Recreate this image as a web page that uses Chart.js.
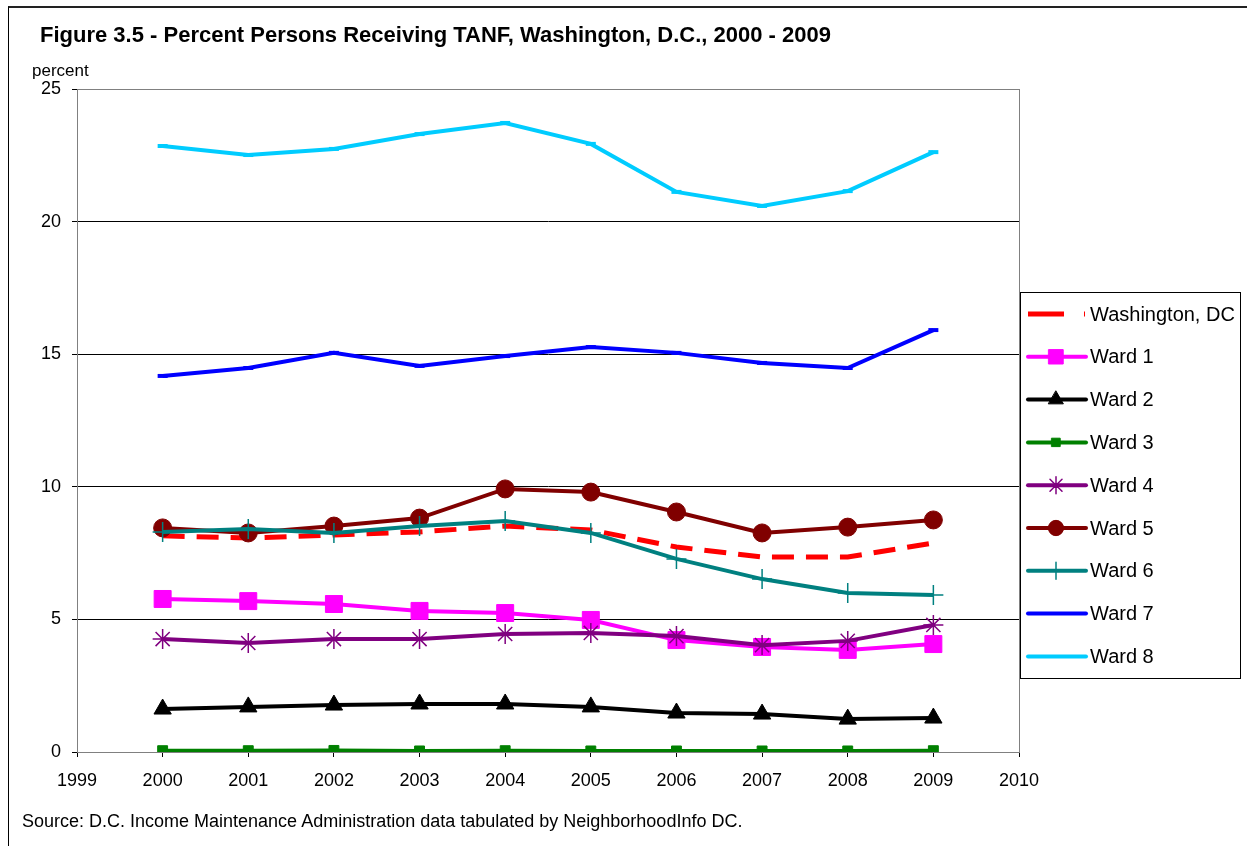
<!DOCTYPE html>
<html>
<head>
<meta charset="utf-8">
<script src="https://cdn.jsdelivr.net/npm/chart.js@4/dist/chart.umd.min.js"></script>
<style>
    body { margin: 0; background: #fff; font-family: Arial, "Liberation Sans", sans-serif; }
    #wrap { position: relative; width: 1247px; height: 846px; overflow: hidden; }
    #frame { position: absolute; left: 8px; top: 6px; width: 1300px; height: 900px; border-left: 1px solid #000; border-top: 2px solid #222; }
    #title { position: absolute; left: 40px; top: 22px; font-size: 22px; font-weight: bold; color: #000; white-space: nowrap; }
    #unit { position: absolute; left: 32px; top: 61px; font-size: 17px; color: #000; }
    #source { position: absolute; left: 22px; top: 811px; font-size: 18px; color: #000; white-space: nowrap; }
    canvas { position: absolute; left: 0; top: 0; }
</style>
</head>
<body>
<div id="wrap">
    <div id="frame"></div>
    <canvas id="tanfChart" width="1247" height="846"></canvas>
    <div id="title">Figure 3.5 - Percent Persons Receiving TANF, Washington, D.C., 2000 - 2009</div>
    <div id="unit">percent</div>
    <div id="source">Source: D.C. Income Maintenance Administration data tabulated by NeighborhoodInfo DC.</div>
</div>
<script>
// Chart data
const years = [2000, 2001, 2002, 2003, 2004, 2005, 2006, 2007, 2008, 2009];
const washingtonDC = [8.15, 8.07, 8.18, 8.30, 8.52, 8.37, 7.73, 7.35, 7.35, 7.88];
const ward1 = [5.77, 5.69, 5.58, 5.32, 5.24, 4.98, 4.22, 3.96, 3.85, 4.07];
const ward2 = [1.62, 1.70, 1.77, 1.81, 1.81, 1.70, 1.47, 1.43, 1.24, 1.28];
const ward3 = [0.05, 0.05, 0.06, 0.04, 0.05, 0.04, 0.04, 0.04, 0.04, 0.05];
const ward4 = [4.26, 4.11, 4.26, 4.26, 4.45, 4.49, 4.37, 4.03, 4.19, 4.79];
const ward5 = [8.45, 8.26, 8.52, 8.82, 9.92, 9.80, 9.05, 8.26, 8.48, 8.75];
const ward6 = [8.30, 8.41, 8.26, 8.52, 8.71, 8.26, 7.28, 6.52, 6.00, 5.92];
const ward7 = [14.18, 14.48, 15.05, 14.56, 14.93, 15.27, 15.05, 14.67, 14.48, 15.91];
const ward8 = [22.85, 22.51, 22.74, 23.30, 23.72, 22.93, 21.12, 20.59, 21.15, 22.62];
const yTicks = [0, 5, 10, 15, 20, 25];
const xTicks = [1999, 2000, 2001, 2002, 2003, 2004, 2005, 2006, 2007, 2008, 2009, 2010];

const FONT = 'Arial, "Liberation Sans", sans-serif';

function pts(values) {
    return values.map((v, i) => ({ x: years[i], y: v }));
}

function series(label, values, color, style, radius, extra) {
    return Object.assign({
        label,
        data: pts(values),
        borderColor: color,
        backgroundColor: color,
        pointBackgroundColor: color,
        pointBorderColor: color,
        borderWidth: 4,
        pointStyle: style,
        pointRadius: radius,
        pointBorderWidth: 1,
        tension: 0
    }, extra || {});
}

// legend order; the chart draws them reversed so DC and ward 1 sit on top
const datasets = [
    series('Washington, DC', washingtonDC, '#FF0000', false, 0, { borderWidth: 5, borderDash: [22, 12] }),
    series('Ward 1', ward1, '#FF00FF', 'rect', 12),
    series('Ward 2', ward2, '#000000', 'triangle', 10),
    series('Ward 3', ward3, '#008000', 'rect', 7),
    series('Ward 4', ward4, '#800080', 'star', 10, { pointBorderWidth: 1.5, pointBackgroundColor: 'rgba(0,0,0,0)' }),
    series('Ward 5', ward5, '#800000', 'circle', 9),
    series('Ward 6', ward6, '#008080', 'cross', 10, { pointBorderWidth: 1.5 }),
    series('Ward 7', ward7, '#0000FF', 'line', 5, { pointBorderWidth: 4 }),
    series('Ward 8', ward8, '#00CCFF', 'line', 5, { pointBorderWidth: 4 })
];

const frameAndLegend = {
    id: 'frameAndLegend',
    beforeDatasetsDraw(chart) {
        const { ctx, chartArea } = chart;
        ctx.save();
        ctx.strokeStyle = '#808080';
        ctx.lineWidth = 1;
        ctx.strokeRect(chartArea.left + 0.5, chartArea.top + 0.5, chartArea.right - chartArea.left, chartArea.bottom - chartArea.top);
        ctx.restore();
    },
    afterDraw(chart) {
        const ctx = chart.ctx;
        const boxX = 1020, boxY = 292, boxW = 220, boxH = 386;
        ctx.save();
        ctx.fillStyle = '#fff';
        ctx.fillRect(boxX, boxY, boxW, boxH);
        ctx.strokeStyle = '#000';
        ctx.lineWidth = 1;
        ctx.strokeRect(boxX + 0.5, boxY + 0.5, boxW, boxH);
        ctx.font = '20px ' + FONT;
        ctx.textBaseline = 'middle';
        datasets.forEach((ds, i) => {
            const y = 314 + i * 42.8;
            ctx.strokeStyle = ds.borderColor;
            ctx.lineWidth = ds.borderWidth;
            ctx.lineCap = 'round';
            if (ds.borderDash) {
                ctx.lineCap = 'butt';
                ctx.beginPath();
                ctx.moveTo(1028, y); ctx.lineTo(1064, y);
                ctx.moveTo(1084, y); ctx.lineTo(1085, y);
                ctx.stroke();
            } else {
                ctx.beginPath();
                ctx.moveTo(1028, y); ctx.lineTo(1086, y);
                ctx.stroke();
                if (ds.pointStyle && ds.pointStyle !== 'line') {
                    ctx.fillStyle = ds.pointBackgroundColor;
                    ctx.strokeStyle = ds.pointBorderColor;
                    ctx.lineWidth = ds.pointBorderWidth;
                    Chart.helpers.drawPoint(ctx, { pointStyle: ds.pointStyle, radius: ds.pointRadius * 0.85, rotation: 0, borderWidth: ds.pointBorderWidth }, 1056, y);
                }
            }
            ctx.fillStyle = '#000';
            ctx.fillText(ds.label, 1090, y + 1);
        });
        ctx.restore();
    }
};

const ctx = document.getElementById('tanfChart').getContext('2d');
new Chart(ctx, {
    type: 'line',
    data: { datasets: datasets.slice().reverse() },
    options: {
        responsive: false,
        animation: false,
        layout: { padding: { left: 0, top: 89, right: 228, bottom: 0 } },
        plugins: { legend: { display: false }, tooltip: { enabled: false } },
        scales: {
            x: {
                type: 'linear',
                min: 1999,
                max: 2010,
                afterBuildTicks(scale) { scale.ticks = xTicks.map(v => ({ value: v })); },
                afterFit(scale) { scale.height = 94; },
                ticks: {
                    color: '#000',
                    font: { size: 18, family: FONT },
                    padding: 13,
                    callback: v => String(v)
                },
                grid: { drawOnChartArea: false, drawTicks: true, tickLength: 5, color: '#000' },
                border: { display: true, color: '#808080' }
            },
            y: {
                min: 0,
                max: 25,
                afterBuildTicks(scale) { scale.ticks = yTicks.map(v => ({ value: v })); },
                afterFit(scale) { scale.width = 77; },
                ticks: {
                    color: '#000',
                    font: { size: 18, family: FONT },
                    padding: 11
                },
                grid: { color: '#000', lineWidth: 1, tickLength: 5 },
                border: { display: true, color: '#808080' }
            }
        }
    },
    plugins: [frameAndLegend]
});
</script>
</body>
</html>
